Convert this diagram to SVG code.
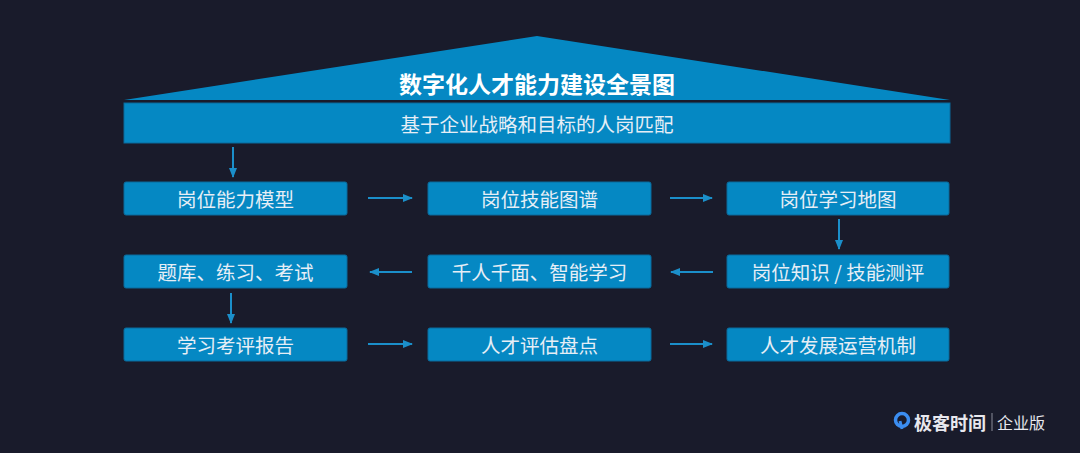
<svg xmlns="http://www.w3.org/2000/svg" width="1080" height="453" viewBox="0 0 1080 453">
<defs>
<style>
.box{fill:#0588c3;stroke:#0b6b9c;stroke-width:1}
.t{font-family:"Noto Sans CJK SC","Noto Sans",sans-serif;font-size:19.5px;fill:#e6eef6;text-anchor:middle;dominant-baseline:central}
.c{stroke:#1b8fca;stroke-width:2;fill:none;marker-end:url(#ah)}
</style>
<marker id="ah" viewBox="0 0 10 10" refX="9" refY="5" markerWidth="5" markerHeight="5" orient="auto"><path d="M0,1 L10,5 L0,9 Z" fill="#1b8fca"/></marker>
</defs>
<rect width="1080" height="453" fill="#191b2b"/>
<g id="roof">
<polygon points="124,100 537,36 950,100" fill="#0588c3"/>
<text x="537" y="83" class="t" style="font-size:23px;font-weight:bold;fill:#ffffff">数字化人才能力建设全景图</text>
</g>
<g id="banner">
<rect x="124" y="103" width="826" height="40" class="box"/>
<text x="537" y="123" class="t">基于企业战略和目标的人岗匹配</text>
</g>
<g id="n1"><rect x="124" y="182" width="223" height="33" rx="2" class="box"/><text x="235.5" y="198.5" class="t">岗位能力模型</text></g>
<g id="n2"><rect x="428" y="182" width="223" height="33" rx="2" class="box"/><text x="539.5" y="198.5" class="t">岗位技能图谱</text></g>
<g id="n3"><rect x="727" y="182" width="222" height="33" rx="2" class="box"/><text x="838" y="198.5" class="t">岗位学习地图</text></g>
<g id="n4"><rect x="124" y="255" width="223" height="33" rx="2" class="box"/><text x="235.5" y="271.5" class="t">题库、练习、考试</text></g>
<g id="n5"><rect x="428" y="255" width="223" height="33" rx="2" class="box"/><text x="539.5" y="271.5" class="t">千人千面、智能学习</text></g>
<g id="n6"><rect x="727" y="255" width="222" height="33" rx="2" class="box"/><text x="838" y="271.5" class="t">岗位知识 / 技能测评</text></g>
<g id="n7"><rect x="124" y="328" width="223" height="33" rx="2" class="box"/><text x="235.5" y="344.5" class="t">学习考评报告</text></g>
<g id="n8"><rect x="428" y="328" width="223" height="33" rx="2" class="box"/><text x="539.5" y="344.5" class="t">人才评估盘点</text></g>
<g id="n9"><rect x="727" y="328" width="222" height="33" rx="2" class="box"/><text x="838" y="344.5" class="t">人才发展运营机制</text></g>
<g id="connectors">
<line x1="233" y1="147" x2="233" y2="177" class="c"/>
<line x1="368" y1="198" x2="412" y2="198" class="c"/>
<line x1="670" y1="198" x2="712" y2="198" class="c"/>
<line x1="839" y1="219" x2="839" y2="249" class="c"/>
<line x1="713" y1="272" x2="671" y2="272" class="c"/>
<line x1="412" y1="272" x2="370" y2="272" class="c"/>
<line x1="231" y1="293" x2="231" y2="323" class="c"/>
<line x1="368" y1="344" x2="412" y2="344" class="c"/>
<line x1="670" y1="344" x2="712" y2="344" class="c"/>
</g>
<g id="logo">
<circle cx="902" cy="420" r="6.5" fill="none" stroke="#3b8df0" stroke-width="3.5"/>
<path d="M900,421 L902,429" stroke="#3b8df0" stroke-width="3" fill="none"/>
<text x="914" y="422" style="font-family:'Noto Sans CJK SC',sans-serif;font-size:18px;font-weight:bold;fill:#e8e8ee;dominant-baseline:central">极客时间</text>
<line x1="992" y1="413" x2="992" y2="431" stroke="#8a8c99" stroke-width="1"/>
<text x="997" y="422" style="font-family:'Noto Sans CJK SC',sans-serif;font-size:16px;fill:#e8e8ee;dominant-baseline:central">企业版</text>
</g>
</svg>
